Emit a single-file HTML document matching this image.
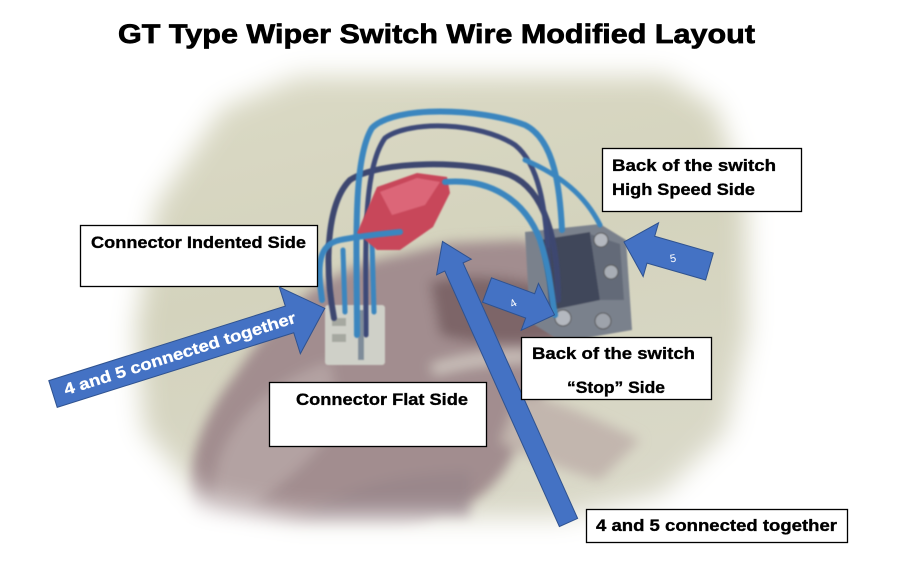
<!DOCTYPE html>
<html>
<head>
<meta charset="utf-8">
<style>
html,body{margin:0;padding:0;background:#fff;}
svg{display:block;}
text{font-family:"Liberation Sans",Arial,sans-serif;font-weight:bold;}
</style>
</head>
<body>
<svg width="903" height="584" viewBox="0 0 903 584" xmlns="http://www.w3.org/2000/svg">
<defs>
  <filter id="b18" x="-30%" y="-30%" width="160%" height="160%"><feGaussianBlur stdDeviation="13"/></filter>
  <filter id="b6" x="-20%" y="-20%" width="140%" height="140%"><feGaussianBlur stdDeviation="6"/></filter>
  <filter id="b1" x="-20%" y="-20%" width="140%" height="140%"><feGaussianBlur stdDeviation="0.8"/></filter>
  <mask id="m" maskUnits="userSpaceOnUse" x="0" y="0" width="903" height="584">
    <rect width="903" height="584" fill="#000"/>
    <polygon points="300,76 665,76 716,108 746,200 748,330 726,432 662,494 560,518 300,518 203,500 144,430 136,330 156,205 222,108" fill="#fff" filter="url(#b18)"/>
  </mask>
  <linearGradient id="bg" x1="0" y1="0" x2="0.3" y2="1">
    <stop offset="0" stop-color="#dcdbc7"/>
    <stop offset="0.5" stop-color="#d4d3bd"/>
    <stop offset="1" stop-color="#dad9c9"/>
  </linearGradient>
</defs>

<rect width="903" height="584" fill="#fff"/>

<!-- photo -->
<g mask="url(#m)">
  <rect x="80" y="50" width="720" height="520" fill="url(#bg)"/>
  <!-- hand -->
  <g filter="url(#b6)">
    <path d="M190,530 C182,470 200,420 235,375 C255,345 275,320 300,300 C330,275 360,262 400,255 L450,243 L520,240 C548,244 565,262 562,330 C548,390 522,440 505,470 C480,505 440,525 400,530 Z" fill="#a28d8f"/>
    <path d="M214,500 C212,455 235,420 270,392 C292,376 314,366 330,362 L340,420 C320,450 290,480 252,505 Z" fill="#b3a2a2"/>
    <path d="M430,282 C470,272 520,277 560,292 L560,340 C520,345 470,345 440,335 Z" fill="#7d6567"/>
    <path d="M300,520 C350,482 420,472 470,472 L470,520 Z" fill="#9a878b"/>
    <path d="M520,392 C560,402 600,420 640,440 L600,480 C560,470 520,452 500,442 Z" fill="#c2b6ae"/>
    <path d="M430,365 C460,355 500,350 530,352 L528,362 C500,362 465,366 435,375 Z" fill="#cfc6bf"/>
  </g>
  <!-- switch body -->
  <g filter="url(#b1)">
    <polygon points="525,232 600,224 626,240 632,330 562,342 530,322" fill="#7a818c"/>
    <polygon points="540,240 590,232 600,300 552,310" fill="#41465a"/>
    <polygon points="590,234 620,244 624,300 600,300" fill="#636a78"/>
    <circle cx="601" cy="240" r="7" fill="#b4b8bf" stroke="#555" stroke-width="1"/>
    <circle cx="611" cy="272" r="7" fill="#a8adb5" stroke="#555" stroke-width="1"/>
    <circle cx="563" cy="318" r="8" fill="#b4b8bf" stroke="#555" stroke-width="1"/>
    <circle cx="603" cy="321" r="8" fill="#9ea3ab" stroke="#555" stroke-width="1"/>
  </g>
  <!-- white connector -->
  <g filter="url(#b1)">
    <rect x="325" y="305" width="60" height="60" rx="3" fill="#cfd0c8"/>
    <rect x="332" y="318" width="14" height="8" fill="#a6a8a0"/>
    <rect x="332" y="334" width="14" height="8" fill="#a6a8a0"/>
    <rect x="358" y="310" width="6" height="50" fill="#7f8c9a"/>
  </g>
  <!-- wires -->
  <g fill="none" stroke-linecap="round" filter="url(#b1)">
    <path d="M334,318 C325,270 325,205 350,180 C380,160 470,160 510,175 C545,190 558,240 558,300" stroke="#3e4770" stroke-width="6"/>
    <path d="M366,335 C366,250 362,170 385,138 C410,120 480,122 515,145 C540,165 545,210 548,250" stroke="#3d4a78" stroke-width="5"/>
    <path d="M357,335 C357,250 352,160 372,128 C395,105 480,108 525,125 C555,140 560,190 562,230" stroke="#3b86bf" stroke-width="6"/>
    <path d="M525,160 C560,175 585,195 600,225" stroke="#3b86bf" stroke-width="5"/>
    <path d="M345,312 L343,250" stroke="#3b86bf" stroke-width="5"/>
    <path d="M374,312 L372,240" stroke="#3b86bf" stroke-width="5"/>
    <path d="M548,250 L552,312" stroke="#3e4770" stroke-width="5"/>
  </g>
  <!-- red connector -->
  <g filter="url(#b1)">
    <polygon points="357,233 377,187 417,173 447,177 450,193 433,227 400,250 377,250" fill="#c8475a"/>
    <polygon points="380,192 417,178 440,182 425,205 392,215" fill="#dc6678"/>
  </g>
  <g fill="none" stroke-linecap="round" filter="url(#b1)">
    <path d="M322,300 C318,270 316,245 340,240 C360,236 380,234 400,232" stroke="#3b86bf" stroke-width="6"/>
    <path d="M445,182 C490,178 525,200 540,240 C550,270 552,300 555,315" stroke="#3b86bf" stroke-width="6"/>
  </g>
</g>

<!-- title -->
<text x="118" y="43" font-size="27" fill="#000" stroke="#000" stroke-width="0.7" textLength="637" lengthAdjust="spacingAndGlyphs">GT Type Wiper Switch Wire Modified Layout</text>

<!-- big long arrow -->
<g transform="translate(568.5,522.5) rotate(-114.15)">
  <polygon points="0,-10 280,-10 280,-19 308,0 280,19 280,10 0,10" fill="#4472c4" stroke="#2f528f" stroke-width="1"/>
</g>

<!-- boxes -->
<g stroke="#000" stroke-width="0.35">
<rect x="80.5" y="225.5" width="237" height="61" fill="#fff" stroke="#000" stroke-width="1.3"/>
<text x="91" y="248" font-size="17" textLength="215" lengthAdjust="spacingAndGlyphs">Connector Indented Side</text>

<rect x="602.5" y="148.5" width="199" height="63" fill="#fff" stroke="#000" stroke-width="1.3"/>
<text x="612" y="171" font-size="17" textLength="164" lengthAdjust="spacingAndGlyphs">Back of the switch</text>
<text x="612" y="195" font-size="17" textLength="143" lengthAdjust="spacingAndGlyphs">High Speed Side</text>

<rect x="521.5" y="337.5" width="190" height="62" fill="#fff" stroke="#000" stroke-width="1.3"/>
<text x="532" y="359" font-size="17" textLength="163" lengthAdjust="spacingAndGlyphs">Back of the switch</text>
<text x="567" y="393" font-size="17" textLength="98" lengthAdjust="spacingAndGlyphs">“Stop” Side</text>

<rect x="269.5" y="382.5" width="217" height="64" fill="#fff" stroke="#000" stroke-width="1.3"/>
<text x="296" y="405" font-size="17" textLength="172" lengthAdjust="spacingAndGlyphs">Connector Flat Side</text>

<rect x="586.5" y="509.5" width="261" height="33" fill="#fff" stroke="#000" stroke-width="1.3"/>
<text x="596" y="531" font-size="17" textLength="241" lengthAdjust="spacingAndGlyphs">4 and 5 connected together</text>
</g>

<!-- left arrow -->
<g transform="translate(53,394) rotate(-17.5)">
  <polygon points="0,-14 248,-14 248,-34 285,0 248,36 248,14 0,14" fill="#4472c4" stroke="#2f528f" stroke-width="1"/>
  <text x="12" y="5" font-size="16" fill="#fff" stroke="#fff" stroke-width="0.3" textLength="242" lengthAdjust="spacingAndGlyphs">4 and 5 connected together</text>
</g>

<!-- arrow 5 -->
<g transform="translate(709.5,266.5) rotate(-164)">
  <polygon points="0,-14 61,-14 61,-28 89,0 61,28 61,14 0,14" fill="#4472c4" stroke="#2f528f" stroke-width="1"/>
</g>
<text x="673" y="262" font-size="11" style="font-weight:normal" fill="#fff" text-anchor="middle" transform="rotate(-10 673 258)">5</text>

<!-- arrow 4 -->
<g transform="translate(487,290) rotate(20.2)">
  <polygon points="0,-13 46,-13 46,-24 72,0 46,26 46,13 0,13" fill="#4472c4" stroke="#2f528f" stroke-width="1"/>
</g>
<text x="513" y="307" font-size="11" style="font-weight:normal" fill="#fff" text-anchor="middle" transform="rotate(-30 513 303)">4</text>

</svg>
</body>
</html>
